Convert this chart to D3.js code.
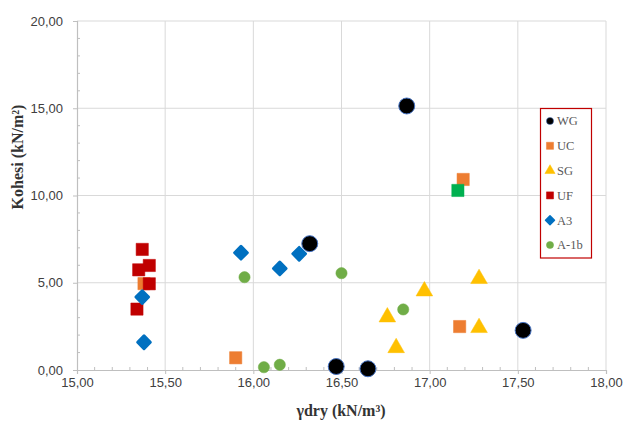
<!DOCTYPE html>
<html><head><meta charset="utf-8">
<script src="https://cdn.jsdelivr.net/npm/d3@7"></script>
<style>body{margin:0;background:#fff;} svg{display:block;}</style>
</head><body>
<svg id="chart" width="625" height="421"></svg>
<script>
// ---- data ----
const xTicks = [15.0, 15.5, 16.0, 16.5, 17.0, 17.5, 18.0];
const yTicks = [0, 5, 10, 15, 20];
const seriesNames = ["WG", "UC", "SG", "UF", "A3", "A-1b"];
const wgX = [16.87, 16.32, 16.47, 16.65, 17.53];
const wgY = [15.13, 7.24, 0.20, 0.07, 2.27];
const ucX = [17.19, 17.17, 15.38, 15.90];
const ucY = [10.92, 2.49, 4.95, 0.70];
const sgX = [16.97, 16.76, 16.81, 17.28, 17.28];
const sgY = [4.52, 3.03, 1.27, 5.23, 2.42];
const ufX = [15.37, 15.41, 15.35, 15.41, 15.34];
const ufY = [6.91, 5.99, 5.74, 4.94, 3.49];
const a3X = [15.37, 15.38, 15.93, 16.15, 16.26];
const a3Y = [4.18, 1.59, 6.72, 5.82, 6.66];
const a1bX = [15.95, 16.06, 16.15, 16.50, 16.85];
const a1bY = [5.32, 0.16, 0.30, 5.55, 3.47];
const extraX = [17.16];
const extraY = [10.29];

// ---- layout ----
const svg = d3.select("#chart");
const x = d3.scaleLinear().domain([15, 18]).range([77, 606]);
const y = d3.scaleLinear().domain([0, 20]).range([370, 21]);
const fmt = v => d3.format(".2f")(v).replace(".", ",");

const diamond = {draw(ctx, size){ const r = Math.sqrt(size/2); ctx.moveTo(0,-r); ctx.lineTo(r,0); ctx.lineTo(0,r); ctx.lineTo(-r,0); ctx.closePath(); }};

const styles = {
  "WG":  {type: d3.symbolCircle, size: 200, lsize: 40, fill: "#000000", stroke: "#4472C4", sw: 1},
  "UC":  {type: d3.symbolSquare, size: 150, lsize: 50, fill: "#ED7D31", stroke: "#ED7D31", sw: 0.5},
  "SG":  {type: d3.symbolTriangle, size: 120, lsize: 45, fill: "#FFC000", stroke: "#FFC000", sw: 0.5},
  "UF":  {type: d3.symbolSquare, size: 150, lsize: 50, fill: "#C00000", stroke: "#C00000", sw: 0.5},
  "A3":  {type: diamond, size: 80, lsize: 40, fill: "#0070C0", stroke: "#0070C0", sw: 3},
  "A-1b":{type: d3.symbolCircle, size: 100, lsize: 40, fill: "#70AD47", stroke: "#70AD47", sw: 0.5},
  "X":   {type: d3.symbolSquare, size: 150, lsize: 50, fill: "#00B050", stroke: "#00B050", sw: 0.5}
};
const data = {
  "WG": [wgX, wgY], "UC": [ucX, ucY], "SG": [sgX, sgY], "UF": [ufX, ufY],
  "A3": [a3X, a3Y], "A-1b": [a1bX, a1bY], "X": [extraX, extraY]
};

// gridlines
svg.append("g").selectAll("line.gx").data(xTicks.slice(1)).join("line")
  .attr("x1", d => x(d)).attr("x2", d => x(d)).attr("y1", y(0)).attr("y2", y(20))
  .attr("stroke", "#D9D9D9").attr("stroke-width", 1);
svg.append("g").selectAll("line.gy").data(yTicks.slice(1)).join("line")
  .attr("x1", x(15)).attr("x2", x(18)).attr("y1", d => y(d)).attr("y2", d => y(d))
  .attr("stroke", "#D9D9D9").attr("stroke-width", 1);

// minor ticks (inside)
const xMinor = d3.range(151, 180).map(v => v/10).filter(v => Math.abs(v*2 - Math.round(v*2)) > 1e-6);
svg.append("g").selectAll("line").data(xMinor).join("line")
  .attr("x1", d => x(d)).attr("x2", d => x(d)).attr("y1", y(0)).attr("y2", y(0) - 3)
  .attr("stroke", "#BFBFBF");
const yMinor = d3.range(1, 20).filter(v => v % 5 !== 0);
svg.append("g").selectAll("line").data(yMinor).join("line")
  .attr("x1", x(15)).attr("x2", x(15) + 3).attr("y1", d => y(d)).attr("y2", d => y(d))
  .attr("stroke", "#BFBFBF");

// axes
const xAxis = svg.append("g").attr("transform", `translate(0,${y(0)})`)
  .call(d3.axisBottom(x).tickValues(xTicks).tickFormat(fmt).tickSize(4).tickPadding(4));
const yAxis = svg.append("g").attr("transform", `translate(${x(15)},0)`)
  .call(d3.axisLeft(y).tickValues(yTicks).tickFormat(fmt).tickSize(4).tickPadding(10));
[xAxis, yAxis].forEach(a => {
  a.select(".domain").attr("stroke", "#BFBFBF").attr("stroke-width", 1.2);
  a.selectAll(".tick line").attr("stroke", "#BFBFBF");
  a.selectAll(".tick text").attr("fill", "#404040")
    .style("font-family", "'Liberation Sans', Arial, sans-serif").style("font-size", "13px");
});

// points
const order = ["UC", "SG", "UF", "A3", "A-1b", "X", "WG"];
order.forEach(name => {
  const st = styles[name];
  const [xs, ys] = data[name];
  const sym = d3.symbol().type(st.type).size(st.size);
  svg.append("g").selectAll("path").data(xs.map((v, i) => [v, ys[i]])).join("path")
    .attr("d", sym)
    .attr("transform", d => `translate(${x(d[0])},${y(d[1])})`)
    .attr("fill", st.fill).attr("stroke", st.stroke).attr("stroke-width", st.sw)
    .attr("stroke-linejoin", "round");
});

// axis titles
svg.append("text").attr("x", 341).attr("y", 416).attr("text-anchor", "middle")
  .style("font-family", "'Liberation Serif', 'Times New Roman', serif").style("font-size", "16px")
  .style("font-weight", "bold").attr("fill", "#333333")
  .text("γdry (kN/m³)");
svg.append("text").attr("transform", "translate(23,157) rotate(-90)").attr("text-anchor", "middle")
  .style("font-family", "'Liberation Serif', 'Times New Roman', serif").style("font-size", "16px")
  .style("font-weight", "bold").attr("fill", "#333333")
  .text("Kohesi (kN/m²)");

// legend
const lg = svg.append("g");
lg.append("rect").attr("x", 540.5).attr("y", 108.5).attr("width", 51).attr("height", 149.5)
  .attr("fill", "#fff").attr("stroke", "#C00000").attr("stroke-width", 1.2);
const ly = d3.scalePoint().domain(seriesNames).range([121, 245]);
seriesNames.forEach(name => {
  const st = styles[name];
  lg.append("path").attr("d", d3.symbol().type(st.type).size(st.lsize))
    .attr("transform", `translate(550,${ly(name)})`)
    .attr("fill", st.fill).attr("stroke", st.stroke)
    .attr("stroke-width", name === "A3" ? 1.5 : 0.5).attr("stroke-linejoin", "round");
  lg.append("text").attr("x", 557).attr("y", ly(name)).attr("dy", "0.35em")
    .style("font-family", "'Liberation Serif', 'Times New Roman', serif").style("font-size", "12.5px")
    .attr("fill", "#595959").text(name);
});
</script>
</body></html>
